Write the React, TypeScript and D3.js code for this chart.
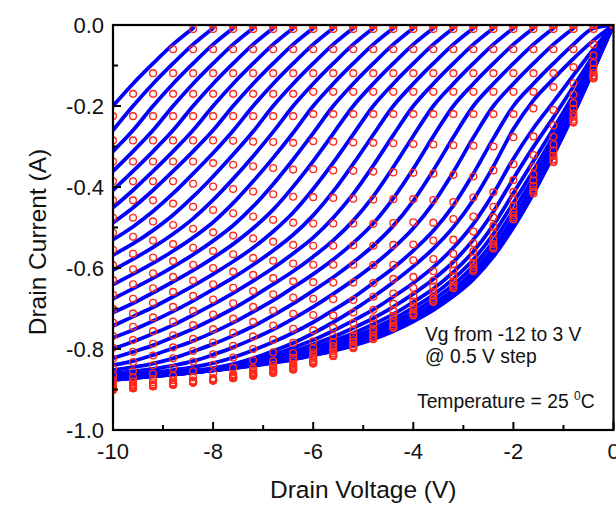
import React from "react";
import * as d3 from "d3";

// Drain sweep shared by every gate-voltage curve (V)
const drainVoltage = [-10, -9.6, -9.2, -8.8, -8.4, -8, -7.6, -7.2, -6.8, -6.4, -6, -5.6, -5.2, -4.8, -4.4, -4, -3.6, -3.2, -2.8, -2.4, -2, -1.6, -1.2, -0.8, -0.4, 0];

// Gate voltage of each curve, top curve first (V)
const gateVoltage = [3, 2.5, 2, 1.5, 1, 0.5, 0, -0.5, -1, -1.5, -2, -2.5, -3, -3.5, -4, -4.5, -5, -5.5, -6, -6.5, -7, -7.5, -8, -8.5, -9, -9.5, -10, -10.5, -11, -11.5, -12];

// Model drain current (A), one row per gate voltage
const fitCurrent = [
  [-.200,-.145,-.095,-.048,-.008,0,0,0,0,0,0,0,0,0,0,0,0,0,0,0,0,0,0,0,0,0],
  [-.260,-.200,-.145,-.095,-.048,-.008,0,0,0,0,0,0,0,0,0,0,0,0,0,0,0,0,0,0,0,0],
  [-.312,-.260,-.200,-.145,-.095,-.048,-.008,0,0,0,0,0,0,0,0,0,0,0,0,0,0,0,0,0,0,0],
  [-.361,-.312,-.260,-.200,-.145,-.095,-.048,-.008,0,0,0,0,0,0,0,0,0,0,0,0,0,0,0,0,0,0],
  [-.408,-.361,-.312,-.260,-.200,-.145,-.095,-.048,-.008,0,0,0,0,0,0,0,0,0,0,0,0,0,0,0,0,0],
  [-.451,-.408,-.361,-.312,-.260,-.200,-.145,-.095,-.048,-.008,0,0,0,0,0,0,0,0,0,0,0,0,0,0,0,0],
  [-.488,-.451,-.408,-.361,-.312,-.260,-.200,-.145,-.095,-.048,-.008,0,0,0,0,0,0,0,0,0,0,0,0,0,0,0],
  [-.530,-.498,-.460,-.416,-.367,-.316,-.261,-.200,-.145,-.095,-.048,-.008,0,0,0,0,0,0,0,0,0,0,0,0,0,0],
  [-.568,-.540,-.507,-.469,-.424,-.374,-.320,-.263,-.200,-.145,-.095,-.048,-.008,0,0,0,0,0,0,0,0,0,0,0,0,0],
  [-.605,-.578,-.549,-.516,-.478,-.432,-.380,-.324,-.264,-.200,-.145,-.095,-.048,-.008,0,0,0,0,0,0,0,0,0,0,0,0],
  [-.641,-.615,-.588,-.558,-.525,-.487,-.440,-.386,-.328,-.266,-.200,-.145,-.095,-.048,-.008,0,0,0,0,0,0,0,0,0,0,0],
  [-.676,-.651,-.625,-.597,-.567,-.533,-.495,-.448,-.393,-.332,-.267,-.200,-.145,-.095,-.048,-.008,0,0,0,0,0,0,0,0,0,0],
  [-.710,-.687,-.661,-.634,-.606,-.575,-.541,-.502,-.456,-.399,-.336,-.268,-.200,-.145,-.095,-.048,-.008,0,0,0,0,0,0,0,0,0],
  [-.743,-.720,-.697,-.671,-.644,-.615,-.584,-.550,-.510,-.463,-.405,-.340,-.270,-.200,-.145,-.095,-.048,-.008,0,0,0,0,0,0,0,0],
  [-.772,-.753,-.731,-.707,-.681,-.653,-.624,-.592,-.557,-.518,-.470,-.411,-.343,-.271,-.200,-.145,-.095,-.048,-.008,0,0,0,0,0,0,0],
  [-.799,-.782,-.762,-.741,-.716,-.690,-.662,-.632,-.600,-.564,-.525,-.476,-.417,-.347,-.272,-.200,-.145,-.095,-.048,-.008,0,0,0,0,0,0],
  [-.823,-.807,-.791,-.771,-.750,-.726,-.700,-.671,-.640,-.608,-.572,-.532,-.483,-.423,-.351,-.274,-.200,-.145,-.095,-.048,-.008,0,0,0,0,0],
  [-.840,-.830,-.815,-.798,-.780,-.759,-.735,-.708,-.680,-.648,-.615,-.579,-.538,-.490,-.428,-.355,-.275,-.200,-.145,-.095,-.048,-.008,0,0,0,0],
  [-.852,-.845,-.836,-.823,-.806,-.788,-.767,-.744,-.717,-.688,-.656,-.623,-.586,-.545,-.496,-.434,-.359,-.277,-.200,-.145,-.095,-.048,-.008,0,0,0],
  [-.859,-.855,-.849,-.841,-.830,-.814,-.796,-.775,-.752,-.725,-.696,-.664,-.630,-.593,-.551,-.502,-.440,-.363,-.278,-.200,-.145,-.095,-.048,-.008,0,0],
  [-.864,-.861,-.857,-.852,-.845,-.835,-.821,-.803,-.783,-.760,-.734,-.704,-.673,-.637,-.600,-.557,-.508,-.446,-.367,-.280,-.200,-.145,-.095,-.048,-.008,0],
  [-.866,-.864,-.862,-.858,-.853,-.847,-.837,-.823,-.805,-.785,-.761,-.734,-.704,-.671,-.635,-.596,-.552,-.499,-.432,-.349,-.257,-.186,-.133,-.083,-.038,0],
  [-.869,-.866,-.864,-.860,-.855,-.849,-.840,-.828,-.814,-.797,-.778,-.755,-.730,-.703,-.671,-.637,-.598,-.550,-.491,-.416,-.330,-.255,-.190,-.124,-.060,0],
  [-.871,-.868,-.865,-.861,-.856,-.850,-.842,-.832,-.820,-.806,-.789,-.770,-.748,-.724,-.696,-.664,-.628,-.585,-.530,-.461,-.379,-.301,-.228,-.152,-.075,0],
  [-.873,-.869,-.865,-.861,-.856,-.851,-.844,-.835,-.824,-.812,-.797,-.780,-.761,-.739,-.714,-.684,-.651,-.610,-.559,-.494,-.415,-.336,-.256,-.173,-.086,0],
  [-.874,-.870,-.866,-.862,-.857,-.852,-.845,-.837,-.827,-.816,-.802,-.787,-.770,-.750,-.726,-.698,-.666,-.627,-.579,-.516,-.439,-.359,-.275,-.187,-.094,0],
  [-.874,-.871,-.866,-.862,-.857,-.852,-.845,-.838,-.829,-.819,-.807,-.793,-.777,-.758,-.735,-.709,-.678,-.641,-.595,-.534,-.459,-.377,-.290,-.198,-.099,0],
  [-.875,-.871,-.867,-.863,-.858,-.852,-.846,-.839,-.831,-.822,-.811,-.798,-.783,-.766,-.744,-.718,-.689,-.653,-.608,-.550,-.476,-.393,-.303,-.207,-.105,0],
  [-.875,-.872,-.867,-.863,-.858,-.853,-.846,-.840,-.833,-.824,-.813,-.802,-.788,-.771,-.750,-.725,-.696,-.662,-.618,-.561,-.488,-.405,-.313,-.214,-.108,0],
  [-.876,-.872,-.867,-.863,-.858,-.853,-.847,-.841,-.833,-.825,-.815,-.804,-.790,-.774,-.754,-.729,-.701,-.667,-.624,-.568,-.495,-.411,-.318,-.218,-.111,0],
  [-.876,-.872,-.867,-.863,-.858,-.853,-.847,-.841,-.834,-.826,-.816,-.805,-.792,-.776,-.756,-.732,-.704,-.670,-.628,-.572,-.500,-.416,-.322,-.221,-.112,0],
];

// Measured drain current (A), same layout as the model rows
const measuredCurrent = [
  [-.225,-.170,-.119,-.060,-.010,0,0,0,0,0,0,0,0,0,0,0,0,0,0,0,0,0,0,0,0,0],
  [-.285,-.225,-.170,-.119,-.060,-.010,0,0,0,0,0,0,0,0,0,0,0,0,0,0,0,0,0,0,0,0],
  [-.337,-.285,-.225,-.170,-.119,-.060,-.010,0,0,0,0,0,0,0,0,0,0,0,0,0,0,0,0,0,0,0],
  [-.386,-.337,-.285,-.225,-.170,-.119,-.060,-.010,0,0,0,0,0,0,0,0,0,0,0,0,0,0,0,0,0,0],
  [-.433,-.386,-.337,-.285,-.225,-.170,-.119,-.060,-.010,0,0,0,0,0,0,0,0,0,0,0,0,0,0,0,0,0],
  [-.476,-.433,-.386,-.337,-.285,-.225,-.170,-.119,-.060,-.010,0,0,0,0,0,0,0,0,0,0,0,0,0,0,0,0],
  [-.513,-.476,-.433,-.386,-.337,-.285,-.225,-.170,-.119,-.060,-.010,0,0,0,0,0,0,0,0,0,0,0,0,0,0,0],
  [-.555,-.523,-.485,-.441,-.392,-.341,-.286,-.225,-.170,-.119,-.060,-.010,0,0,0,0,0,0,0,0,0,0,0,0,0,0],
  [-.593,-.565,-.532,-.494,-.449,-.399,-.345,-.288,-.225,-.170,-.119,-.060,-.010,0,0,0,0,0,0,0,0,0,0,0,0,0],
  [-.630,-.603,-.574,-.541,-.503,-.457,-.405,-.349,-.289,-.225,-.165,-.119,-.060,-.010,0,0,0,0,0,0,0,0,0,0,0,0],
  [-.666,-.640,-.613,-.583,-.550,-.512,-.465,-.411,-.353,-.291,-.220,-.165,-.119,-.060,-.010,0,0,0,0,0,0,0,0,0,0,0],
  [-.701,-.676,-.650,-.622,-.592,-.558,-.520,-.473,-.418,-.357,-.287,-.220,-.165,-.119,-.060,-.010,0,0,0,0,0,0,0,0,0,0],
  [-.735,-.712,-.686,-.659,-.631,-.600,-.566,-.527,-.481,-.424,-.356,-.288,-.220,-.165,-.119,-.060,-.010,0,0,0,0,0,0,0,0,0],
  [-.768,-.745,-.722,-.696,-.669,-.640,-.609,-.575,-.535,-.488,-.425,-.359,-.290,-.220,-.165,-.119,-.060,-.010,0,0,0,0,0,0,0,0],
  [-.797,-.778,-.756,-.732,-.706,-.678,-.649,-.617,-.582,-.543,-.490,-.427,-.360,-.291,-.220,-.165,-.119,-.060,-.010,0,0,0,0,0,0,0],
  [-.824,-.807,-.787,-.766,-.741,-.715,-.687,-.657,-.625,-.589,-.545,-.490,-.429,-.362,-.292,-.220,-.165,-.119,-.060,-.010,0,0,0,0,0,0],
  [-.848,-.832,-.816,-.796,-.775,-.751,-.725,-.696,-.665,-.633,-.592,-.545,-.490,-.431,-.364,-.294,-.220,-.165,-.119,-.060,-.010,0,0,0,0,0],
  [-.865,-.855,-.840,-.823,-.805,-.784,-.760,-.733,-.705,-.673,-.635,-.592,-.544,-.491,-.430,-.365,-.295,-.220,-.165,-.119,-.060,-.010,0,0,0,0],
  [-.877,-.870,-.861,-.848,-.831,-.813,-.792,-.769,-.742,-.713,-.676,-.636,-.592,-.545,-.489,-.430,-.367,-.297,-.220,-.165,-.119,-.060,-.010,0,0,0],
  [-.884,-.880,-.874,-.866,-.855,-.839,-.821,-.800,-.777,-.750,-.716,-.677,-.636,-.593,-.543,-.487,-.432,-.370,-.298,-.220,-.165,-.119,-.060,-.010,0,0],
  [-.889,-.886,-.882,-.877,-.870,-.860,-.846,-.828,-.808,-.785,-.754,-.717,-.679,-.637,-.592,-.542,-.488,-.437,-.374,-.300,-.220,-.165,-.119,-.060,-.010,0],
  [-.891,-.889,-.887,-.883,-.878,-.872,-.862,-.848,-.830,-.810,-.781,-.747,-.710,-.671,-.627,-.581,-.532,-.479,-.426,-.359,-.277,-.206,-.153,-.104,-.048,0],
  [-.894,-.891,-.889,-.885,-.880,-.874,-.865,-.853,-.839,-.822,-.798,-.768,-.736,-.703,-.663,-.622,-.578,-.530,-.473,-.413,-.344,-.275,-.210,-.144,-.075,0],
  [-.896,-.893,-.890,-.886,-.881,-.875,-.867,-.857,-.845,-.831,-.809,-.783,-.754,-.724,-.688,-.649,-.608,-.565,-.510,-.449,-.383,-.321,-.248,-.172,-.094,0],
  [-.898,-.894,-.890,-.886,-.881,-.876,-.869,-.860,-.849,-.837,-.817,-.793,-.767,-.739,-.706,-.669,-.631,-.590,-.539,-.475,-.412,-.350,-.276,-.193,-.108,0],
  [-.899,-.895,-.891,-.887,-.882,-.877,-.870,-.862,-.852,-.841,-.822,-.800,-.776,-.750,-.718,-.683,-.646,-.607,-.559,-.496,-.431,-.369,-.295,-.207,-.118,0],
  [-.899,-.896,-.891,-.887,-.882,-.877,-.870,-.863,-.854,-.844,-.827,-.806,-.783,-.758,-.727,-.694,-.658,-.621,-.575,-.514,-.447,-.384,-.310,-.218,-.124,0],
  [-.900,-.896,-.892,-.888,-.883,-.877,-.871,-.864,-.856,-.847,-.831,-.811,-.789,-.766,-.736,-.703,-.669,-.633,-.588,-.530,-.461,-.397,-.323,-.227,-.125,0],
  [-.900,-.897,-.892,-.888,-.883,-.878,-.871,-.865,-.858,-.849,-.833,-.815,-.794,-.771,-.742,-.710,-.676,-.642,-.598,-.541,-.470,-.407,-.331,-.234,-.128,0],
  [-.901,-.897,-.892,-.888,-.883,-.878,-.872,-.866,-.858,-.850,-.835,-.817,-.796,-.774,-.746,-.714,-.681,-.647,-.604,-.548,-.476,-.412,-.335,-.238,-.131,0],
  [-.901,-.897,-.892,-.888,-.883,-.878,-.872,-.866,-.859,-.851,-.836,-.818,-.798,-.776,-.748,-.717,-.684,-.650,-.608,-.552,-.480,-.416,-.339,-.241,-.132,0],
];

// Axis ticks and labels
const xMajorTicks = [-10, -8, -6, -4, -2, 0];
const xTickLabels = ["-10", "-8", "-6", "-4", "-2", "0"];
const xMinorTicks = [-9, -7, -5, -3, -1];
const yMajorTicks = [0, -0.2, -0.4, -0.6, -0.8, -1.0];
const yTickLabels = ["0.0", "-0.2", "-0.4", "-0.6", "-0.8", "-1.0"];
const yMinorTicks = [-0.1, -0.3, -0.5, -0.7, -0.9];

const WIDTH = 616;
const HEIGHT = 505;
const PLOT = { left: 113, right: 613.5, top: 25, bottom: 430 };
const FONT = "'Liberation Sans', Arial, Helvetica, sans-serif";
const LINE_BLUE = "#0000ff";
const MARKER_RED = "#ff2a1a";

export default function App() {
  const x = d3.scaleLinear().domain([-10, 0]).range([PLOT.left, PLOT.right]);
  const y = d3.scaleLinear().domain([-1, 0]).range([PLOT.bottom, PLOT.top]);

  const line = d3
    .line<[number, number]>()
    .x((d) => x(d[0]))
    .y((d) => y(d[1]))
    .curve(d3.curveMonotoneX);

  // a curve stops at its last non-zero point; curves still conducting
  // at the end of the sweep run into the origin
  const curvePoints = (row: number[]): [number, number][] => {
    const n = Math.min(row.length, drainVoltage.length);
    let end = n;
    for (let j = 1; j < n; j++) {
      if (row[j] === 0) {
        end = j === n - 1 ? n : j;
        break;
      }
    }
    const pts: [number, number][] = [];
    for (let j = 0; j < end; j++) pts.push([drainVoltage[j], row[j]]);
    return pts;
  };

  return (
    <svg
      width={WIDTH}
      height={HEIGHT}
      viewBox={`0 0 ${WIDTH} ${HEIGHT}`}
      style={{ position: "absolute", left: 0, top: 0, display: "block" }}
      fontFamily={FONT}
    >
      <defs>
        <clipPath id="plot-area">
          <rect x={PLOT.left} y={PLOT.top} width={PLOT.right - PLOT.left} height={PLOT.bottom - PLOT.top} />
        </clipPath>
      </defs>
      <rect x={0} y={0} width={WIDTH} height={HEIGHT} fill="#ffffff" />

      <g clipPath="url(#plot-area)">
        {fitCurrent.map((row, k) => (
          <path
            key={`fit-${gateVoltage[k]}`}
            d={line(curvePoints(row)) || ""}
            fill="none"
            stroke={LINE_BLUE}
            strokeWidth={3.8}
            strokeLinejoin="round"
            strokeLinecap="round"
          />
        ))}
        {measuredCurrent.map((row, k) =>
          row.slice(0, drainVoltage.length).map((v, j) => (
            <circle
              key={`m-${gateVoltage[k]}-${j}`}
              cx={x(drainVoltage[j])}
              cy={y(v)}
              r={3.4}
              fill="none"
              stroke={MARKER_RED}
              strokeWidth={1.35}
            />
          ))
        )}
      </g>

      {/* frame */}
      <rect
        x={PLOT.left}
        y={PLOT.top}
        width={PLOT.right - PLOT.left}
        height={PLOT.bottom - PLOT.top}
        fill="none"
        stroke="#000"
        strokeWidth={2.2}
      />

      {/* x ticks */}
      {xMajorTicks.map((t) => (
        <line key={`xt-${t}`} x1={x(t)} x2={x(t)} y1={PLOT.bottom} y2={PLOT.bottom - 8} stroke="#000" strokeWidth={2} />
      ))}
      {xMinorTicks.map((t) => (
        <line key={`xm-${t}`} x1={x(t)} x2={x(t)} y1={PLOT.bottom} y2={PLOT.bottom - 5} stroke="#000" strokeWidth={2} />
      ))}
      {xMajorTicks.map((t, i) => (
        <text key={`xl-${t}`} x={x(t)} y={459} textAnchor="middle" fontSize={22} fill="#111">
          {xTickLabels[i]}
        </text>
      ))}

      {/* y ticks */}
      {yMajorTicks.map((t) => (
        <line key={`yt-${t}`} x1={PLOT.left} x2={PLOT.left + 8} y1={y(t)} y2={y(t)} stroke="#000" strokeWidth={2} />
      ))}
      {yMinorTicks.map((t) => (
        <line key={`ym-${t}`} x1={PLOT.left} x2={PLOT.left + 5} y1={y(t)} y2={y(t)} stroke="#000" strokeWidth={2} />
      ))}
      {yMajorTicks.map((t, i) => (
        <text key={`yl-${t}`} x={104} y={y(t) + 8} textAnchor="end" fontSize={22} fill="#111">
          {yTickLabels[i]}
        </text>
      ))}

      {/* axis titles */}
      <text x={(PLOT.left + PLOT.right) / 2} y={498} textAnchor="middle" fontSize={24.5} fill="#111">
        Drain Voltage (V)
      </text>
      <text transform="translate(46,242) rotate(-90)" textAnchor="middle" fontSize={24.5} fill="#111">
        Drain Current (A)
      </text>

      {/* annotations */}
      <text x={425} y={341} fontSize={19.3} fill="#111">
        Vg from -12 to 3 V
      </text>
      <text x={425} y={363} fontSize={19.3} fill="#111">
        @ 0.5 V step
      </text>
      <text x={417} y={408} fontSize={19.3} fill="#111">
        Temperature = 25{" "}
        <tspan fontSize={12} dy={-8}>
          0
        </tspan>
        <tspan dy={8}>C</tspan>
      </text>
    </svg>
  );
}
